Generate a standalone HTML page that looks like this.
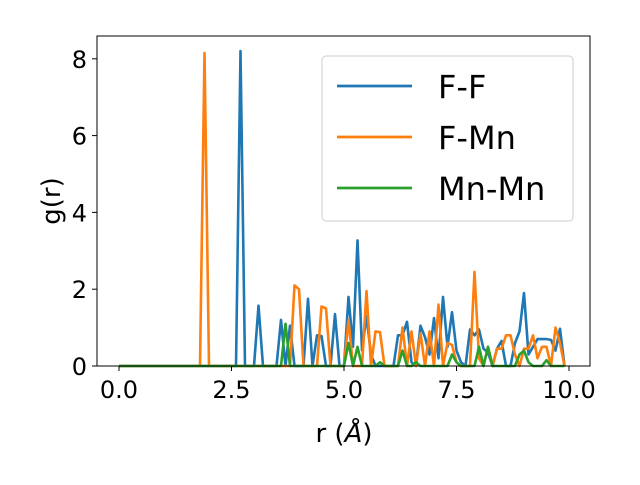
<!DOCTYPE html>
<html><head><meta charset="utf-8"><style>
body{margin:0;background:#fff;font-family:"Liberation Sans","DejaVu Sans",sans-serif}
svg text{font-family:"DejaVu Sans","Liberation Sans",sans-serif;fill:#000}
</style></head><body>
<svg id="c" width="640" height="480" xmlns="http://www.w3.org/2000/svg"></svg>
<script>
const xTicks=[0,2.5,5,7.5,10];
const xTickLabels=["0.0","2.5","5.0","7.5","10.0"];
const yTicks=[0,2,4,6,8];
const yTickLabels=["0","2","4","6","8"];
const seriesNames=["F-F","F-Mn","Mn-Mn"];
const ffData={2.7:8.2,3.1:1.57,3.6:1.2,3.8:1.05,4.2:1.75,4.4:0.8,4.5:0.78,4.8:1.35,5.1:1.8,5.2:0.5,5.3:3.27,5.4:0.4,5.5:1.3,5.6:0.3,6.2:0.8,6.3:0.8,6.4:1.15,6.5:0.1,6.7:1.05,6.8:0.75,6.9:0.3,7.0:1.25,7.1:0.2,7.2:1.8,7.3:0.5,7.4:1.4,7.5:0.4,7.6:0.1,7.8:0.95,7.9:0.8,8.0:0.95,8.1:0.45,8.2:0.35,8.4:0.45,8.5:0.65,8.8:0.6,8.9:0.9,9.0:1.9,9.1:0.3,9.2:0.5,9.3:0.7,9.4:0.7,9.5:0.7,9.6:0.68,9.7:0.4,9.8:0.97};
const fmnData={1.9:8.15,3.9:2.1,4.0:2.0,4.5:1.55,4.6:1.5,5.1:1.2,5.5:1.95,5.7:0.9,5.8:0.88,6.3:1.0,6.5:0.9,6.7:0.85,6.9:0.9,7.1:1.6,7.3:0.6,7.4:0.55,7.5:0.1,7.9:2.45,8.0:0.2,8.2:0.5,8.4:0.45,8.5:0.45,8.6:0.8,8.7:0.8,8.8:0.3,9.0:0.45,9.1:0.45,9.2:0.8,9.3:0.2,9.4:0.5,9.5:0.5,9.7:1.0,9.8:0.6};
const mnmnData={3.7:1.1,5.1:0.6,5.3:0.5,5.8:0.1,6.3:0.4,6.6:0.1,7.4:0.3,7.5:0.1,8.0:0.5,8.2:0.5,8.9:0.3,9.0:0.4,9.1:0.1,9.5:0.15};
const colors=["#1f77b4","#ff7f0e","#2ca02c"];
const L=97,R=590,T=36,B=366;
const X=r=>119+45*r, Y=v=>366-38.4*v;
const s=document.getElementById('c'),NS="http://www.w3.org/2000/svg";
function mk(t,a,p){const e=document.createElementNS(NS,t);for(const k in a)e.setAttribute(k,a[k]);(p||s).appendChild(e);return e;}
function series(d){const pts=[];for(let i=0;i<100;i++){const r=i/10;const v=d[r.toFixed(1)]||d[r]||0;pts.push(X(r).toFixed(1)+","+Y(v).toFixed(1));}return pts.join(" ");}
[ffData,fmnData,mnmnData].forEach((d,i)=>{
const p=mk('polyline',{points:series(d),fill:'none',stroke:colors[i],'stroke-width':2.6,'stroke-linejoin':'round'});


});
const ax=mk('rect',{x:L,y:T,width:R-L,height:B-T,fill:'none',stroke:'#000','stroke-width':1});


xTicks.forEach((t,i)=>{
mk('line',{x1:X(t),x2:X(t),y1:B,y2:B+5,stroke:'#000'});
const tx=mk('text',{x:X(t),y:B+32,'font-size':24,'text-anchor':'middle'});tx.textContent=xTickLabels[i];


});
yTicks.forEach((t,i)=>{
mk('line',{x1:L-5,x2:L,y1:Y(t),y2:Y(t),stroke:'#000'});
const tx=mk('text',{x:L-10,y:Y(t)+9,'font-size':24,'text-anchor':'end'});tx.textContent=yTickLabels[i];


});
const xl=mk('text',{x:344,y:442,'font-size':26,'text-anchor':'middle'});
xl.innerHTML='r (<tspan font-style="italic">Å</tspan>)';


const yl=mk('text',{x:0,y:0,'font-size':26,'text-anchor':'middle',transform:'translate(60,201) rotate(-90)'});
yl.textContent='g(r)';


const lg=mk('g',{});


mk('rect',{x:322,y:56,width:251,height:165,rx:4,fill:'#fff','fill-opacity':0.8,stroke:'#ccc'},lg);
seriesNames.forEach((n,i)=>{
const y=86+51*i;
mk('line',{x1:337,x2:412,y1:y,y2:y,stroke:colors[i],'stroke-width':2.8},lg);
const t=mk('text',{x:438,y:y+12,'font-size':32},lg);t.textContent=n;


});
</script>
</body></html>
